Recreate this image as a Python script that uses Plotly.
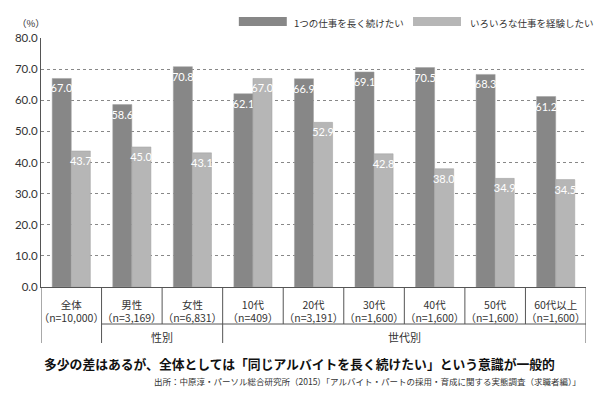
import plotly.graph_objects as go

categories = ["全体", "男性", "女性", "10代", "20代", "30代", "40代", "50代", "60代以上"]
sample_sizes = ["（n=10,000）", "（n=3,169）", "（n=6,831）", "（n=409）", "（n=3,191）",
                "（n=1,600）", "（n=1,600）", "（n=1,600）", "（n=1,600）"]
series_names = ["1つの仕事を長く続けたい", "いろいろな仕事を経験したい"]
long_same = [67.0, 58.6, 70.8, 62.1, 66.9, 69.1, 70.5, 68.3, 61.2]
various = [43.7, 45.0, 43.1, 67.0, 52.9, 42.8, 38.0, 34.9, 34.5]
groups = [("性別", 1, 2), ("世代別", 3, 8)]
y_ticks = [0, 10, 20, 30, 40, 50, 60, 70, 80]
title_text = "多少の差はあるが、全体としては「同じアルバイトを長く続けたい」という意識が一般的"
source_text = "出所：中原淳・パーソル総合研究所（2015）「アルバイト・パートの採用・育成に関する実態調査（求職者編）」"

colors = ["#878787", "#b6b6b6"]
JP = "Noto Sans CJK JP"
NUM = "Lato, Noto Sans CJK JP"
LINE = "#555555"

x = list(range(len(categories)))
ticktext = [f"{c}<br>{n}" for c, n in zip(categories, sample_sizes)]

fig = go.Figure()
for name, vals, col in zip(series_names, [long_same, various], colors):
    fig.add_trace(go.Bar(
        x=x, y=vals, name=name, marker=dict(color=col, line=dict(color="#a0a0a0", width=0.5)),
        text=[f"{v:.1f}" for v in vals], textposition="inside", insidetextanchor="end",
        textangle=0, constraintext="none",
        textfont=dict(color="white", size=11, family=NUM), showlegend=False,
        cliponaxis=False, hoverinfo="skip",
    ))

PH = 249.0  # plot height in px
def py(px_below):
    return -px_below / PH

row1 = py(37)
row2 = py(56)
shapes = []
for k in range(len(categories) + 1):
    shapes.append(dict(type="line", xref="x", yref="paper", x0=k - 0.5, x1=k - 0.5,
                       y0=0, y1=row1, line=dict(color=LINE, width=1)))
for xb in [-0.5, 0.5] + [g[2] + 0.5 for g in groups]:
    shapes.append(dict(type="line", xref="x", yref="paper", x0=xb, x1=xb,
                       y0=row1, y1=row2, line=dict(color=LINE, width=1)))
shapes.append(dict(type="line", xref="x", yref="paper", x0=0.5, x1=len(categories) - 0.5,
                   y0=row1, y1=row1, line=dict(color=LINE, width=1)))

annotations = []
for label, a, b in groups:
    annotations.append(dict(text=label, x=(a + b) / 2, y=py(60), xref="x", yref="paper",
                            showarrow=False, font=dict(size=11, family=JP, color="#333")))

leg = [(0.363, 0.451, 0.4606), (0.6826, 0.7706, 0.7835)]
for (x0, x1, tx), name, col in zip(leg, series_names, colors):
    shapes.append(dict(type="rect", xref="paper", yref="paper", x0=x0, x1=x1,
                       y0=1.048, y1=1.084, fillcolor=col, line=dict(width=0)))
    annotations.append(dict(text=name, x=tx, y=1.060, xref="paper", yref="paper",
                            xanchor="left", yanchor="middle", showarrow=False,
                            font=dict(size=9.5, family=JP, color="#333")))

annotations.append(dict(text="（%）", x=-0.018, y=1.06, xref="paper", yref="paper",
                        xanchor="center", yanchor="middle",
                        showarrow=False, font=dict(size=9.5, family=JP, color="#333")))
annotations.append(dict(text=f"<b>{title_text}</b>", x=0.475, y=py(88), xref="paper", yref="paper",
                        showarrow=False, font=dict(size=12.8, family=JP, color="#111")))
annotations.append(dict(text=source_text, x=0.9945, y=py(102), xref="paper", yref="paper",
                        xanchor="right", showarrow=False, font=dict(size=8.5, family=JP, color="#333")))

fig.update_layout(
    width=600, height=417, margin=dict(l=41, r=14, t=38, b=130),
    paper_bgcolor="white", plot_bgcolor="white",
    barmode="group", bargap=0.37, bargroupgap=0,
    shapes=shapes, annotations=annotations, hovermode=False,
    xaxis=dict(range=[-0.5, len(categories) - 0.5], tickvals=x, ticktext=ticktext,
               showgrid=False, showline=True, linecolor=LINE, linewidth=1, ticks="",
               tickangle=0, automargin=False,
               tickfont=dict(size=10.5, family=JP, color="#333"), ticklabelstandoff=8),
    yaxis=dict(range=[0, 80], tickvals=y_ticks, tickformat=".1f", automargin=False,
               showgrid=True, gridcolor="#888888", griddash="dot", gridwidth=1,
               showline=True, linecolor=LINE, linewidth=1, ticks="", zeroline=False,
               tickfont=dict(size=11.5, family=NUM, color="#333")),
)

fig.write_html("out.html", config={"displayModeBar": False},
               post_script="document.body.style.margin='0';document.body.style.overflow='hidden';")
